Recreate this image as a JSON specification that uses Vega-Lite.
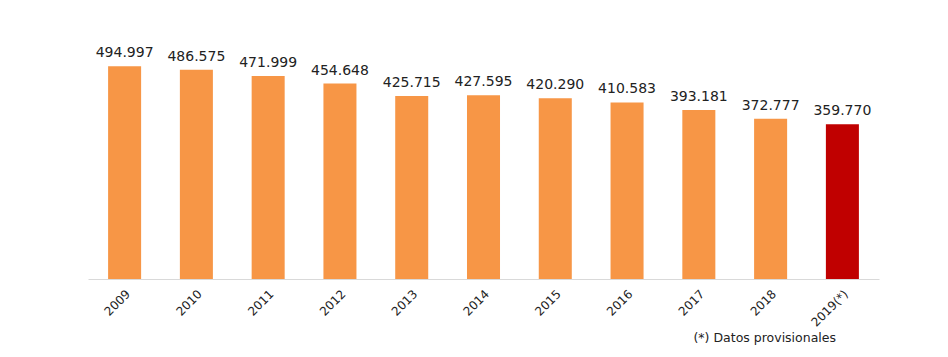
{
  "$schema": "https://vega.github.io/schema/vega-lite/v6.json",
  "width": 791,
  "height": 258,
  "autosize": "none",
  "padding": {"left": 88, "top": 21, "right": 69, "bottom": 78},
  "background": "white",
  "data": {
    "values": [
      {"anio": "2009", "valor": 494997, "tipo": "definitivo"},
      {"anio": "2010", "valor": 486575, "tipo": "definitivo"},
      {"anio": "2011", "valor": 471999, "tipo": "definitivo"},
      {"anio": "2012", "valor": 454648, "tipo": "definitivo"},
      {"anio": "2013", "valor": 425715, "tipo": "definitivo"},
      {"anio": "2014", "valor": 427595, "tipo": "definitivo"},
      {"anio": "2015", "valor": 420290, "tipo": "definitivo"},
      {"anio": "2016", "valor": 410583, "tipo": "definitivo"},
      {"anio": "2017", "valor": 393181, "tipo": "definitivo"},
      {"anio": "2018", "valor": 372777, "tipo": "definitivo"},
      {"anio": "2019(*)", "valor": 359770, "tipo": "provisional"}
    ]
  },
  "title": {
    "text": "(*) Datos provisionales",
    "orient": "bottom",
    "anchor": "end",
    "font": "DejaVu Sans",
    "fontSize": 12.5,
    "fontWeight": "normal",
    "color": "#222222",
    "offset": 4,
    "dx": -43
  },
  "encoding": {
    "x": {
      "field": "anio",
      "type": "ordinal",
      "sort": null,
      "scale": {"paddingInner": 0.54, "paddingOuter": 0.28},
      "axis": {
        "title": null,
        "labelAngle": -45,
        "labelFont": "DejaVu Sans",
        "labelFontSize": 12,
        "labelColor": "#222222",
        "labelPadding": 9,
        "ticks": false,
        "domainColor": "#d9d9d9",
        "domainWidth": 1,
        "grid": false
      }
    },
    "y": {
      "field": "valor",
      "type": "quantitative",
      "scale": {"domain": [0, 600000]},
      "axis": null
    }
  },
  "layer": [
    {
      "mark": {"type": "bar"},
      "encoding": {
        "color": {
          "field": "tipo",
          "type": "nominal",
          "scale": {"domain": ["definitivo", "provisional"], "range": ["#F79646", "#C00000"]},
          "legend": null
        }
      }
    },
    {
      "mark": {"type": "text", "baseline": "alphabetic", "dy": -9, "font": "DejaVu Sans", "fontSize": 14, "color": "#222222"},
      "encoding": {
        "text": {"field": "valor", "type": "quantitative", "format": ",d"}
      }
    }
  ],
  "config": {
    "view": {"stroke": null},
    "locale": {
      "number": {"decimal": ",", "thousands": ".", "grouping": [3], "currency": ["", " €"]}
    }
  }
}
